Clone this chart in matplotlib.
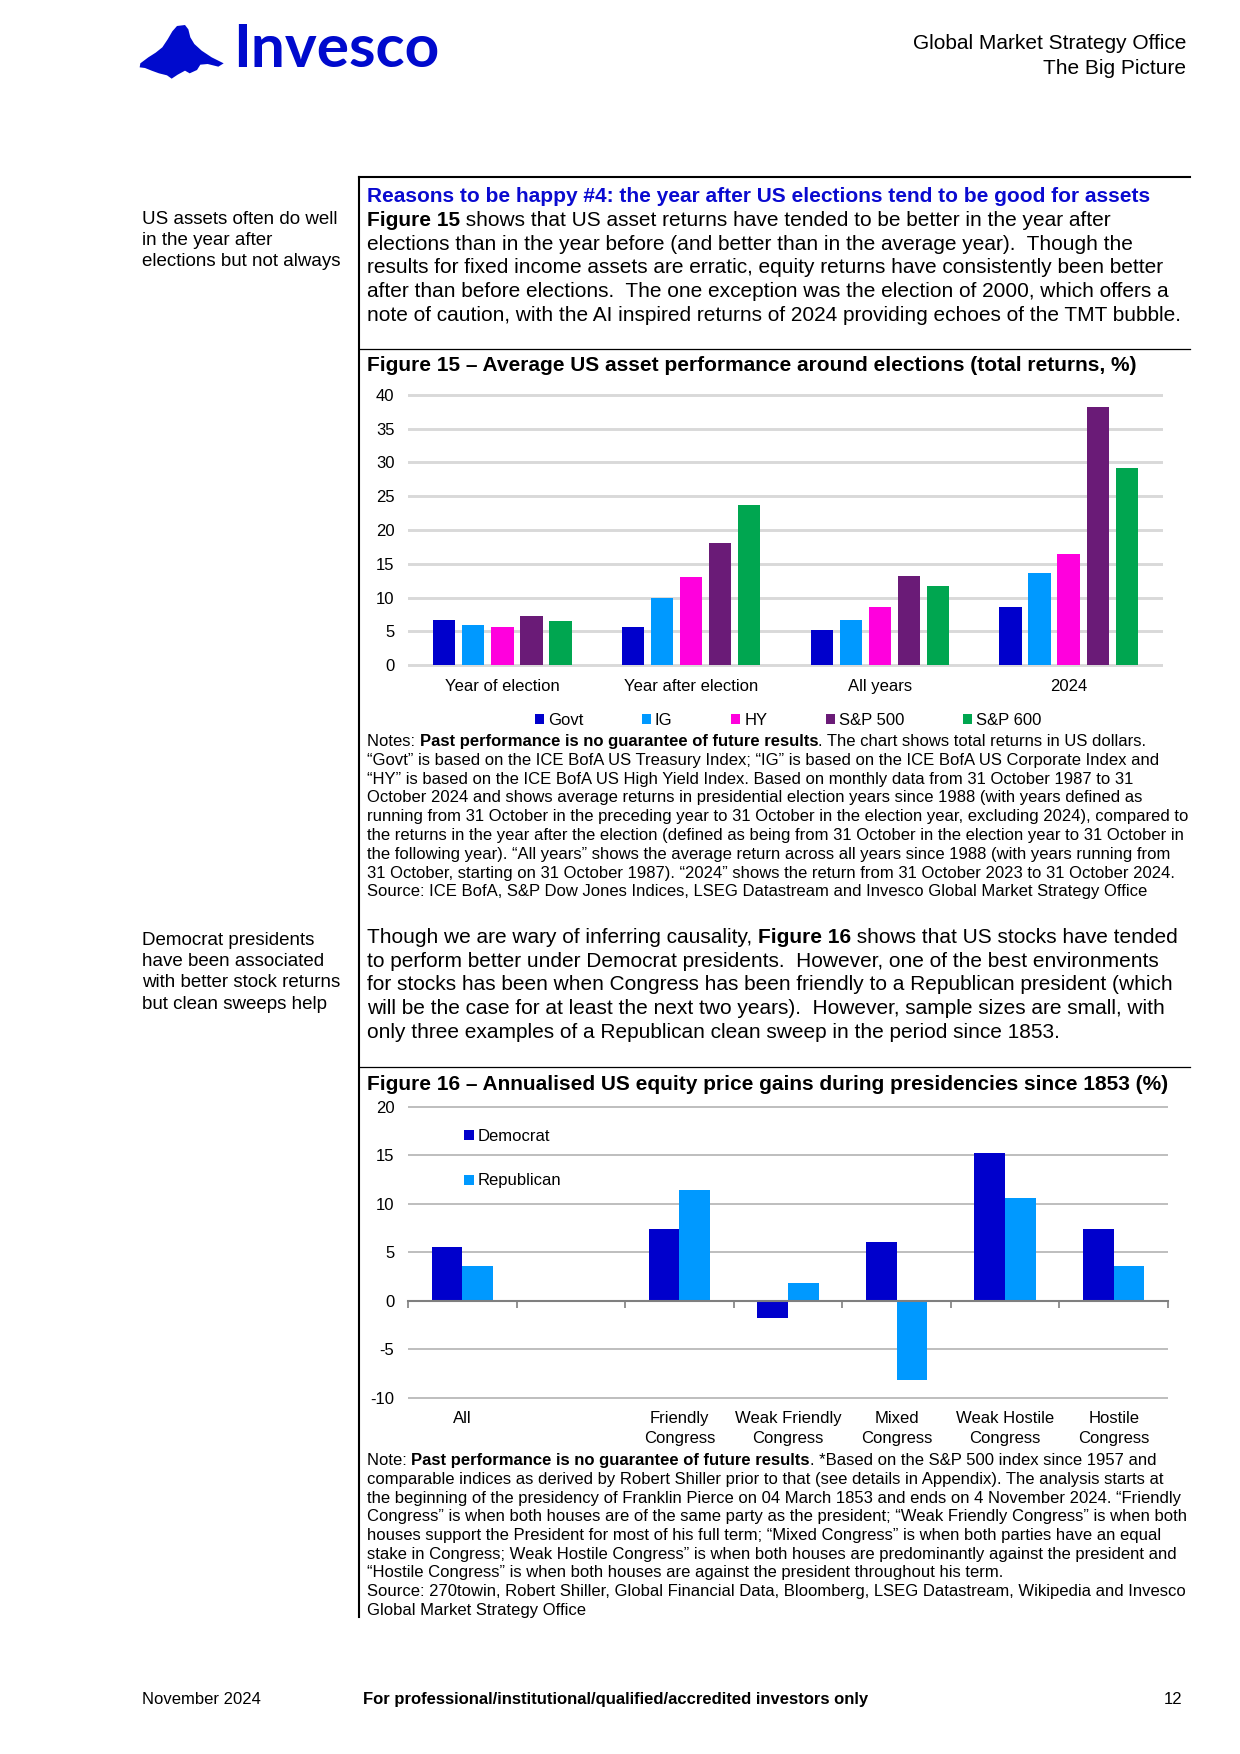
import numpy as np
import matplotlib
matplotlib.use("Agg")
import matplotlib.pyplot as plt
from matplotlib.lines import Line2D
from matplotlib.patches import Polygon

# ---------------- data ----------------
f15_categories = ["Year of election", "Year after election", "All years", "2024"]
f15_series = ["Govt", "IG", "HY", "S&P 500", "S&P 600"]
f15_govt = [6.7, 5.6, 5.2, 8.6]
f15_ig = [5.9, 9.9, 6.7, 13.6]
f15_hy = [5.6, 13.1, 8.6, 16.5]
f15_sp500 = [7.3, 18.1, 13.2, 38.2]
f15_sp600 = [6.6, 23.7, 11.7, 29.1]
f15_yticks = [0, 5, 10, 15, 20, 25, 30, 35, 40]

f16_categories = ["All", "", "Friendly\nCongress", "Weak Friendly\nCongress",
                  "Mixed\nCongress", "Weak Hostile\nCongress", "Hostile\nCongress"]
f16_democrat = [5.5, np.nan, 7.4, -1.8, 6.1, 15.2, 7.4]
f16_republican = [3.6, np.nan, 11.4, 1.8, -8.2, 10.6, 3.6]
f16_yticks = [-10, -5, 0, 5, 10, 15, 20]

# ---------------- styles ----------------
FONT = ["Liberation Sans", "DejaVu Sans"]
plt.rcParams["font.family"] = FONT
C_GOVT, C_IG, C_HY, C_SP5, C_SP6 = "#0000CC", "#0099FF", "#FF00DD", "#6A1B77", "#00A650"
C_DEM, C_REP = "#0000CC", "#0099FF"
BLUE = "#0A0AD0"
DY = 2.5  # visual centre correction (px)

W, H = 1240, 1754
fig = plt.figure(figsize=(W / 150, H / 150), dpi=150)
fig.patch.set_facecolor("white")
renderer = fig.canvas.get_renderer()


def fx(x):
    return x / W


def fy(y):
    return 1 - y / H


def seg_width(s, **kw):
    t1 = fig.text(0, 0, s + "|", **kw)
    w1 = t1.get_window_extent(renderer).width
    t1.remove()
    t2 = fig.text(0, 0, "|", **kw)
    w2 = t2.get_window_extent(renderer).width
    t2.remove()
    return w1 - w2


def rich(x, y, segs, size, color="black"):
    for s, bold in segs:
        kw = dict(fontsize=size, fontweight="bold" if bold else "normal")
        fig.text(fx(x), fy(y + DY), s, va="center", ha="left", color=color, **kw)
        x += seg_width(s, **kw)


def txt(x, y, s, size, ha="left", bold=False, color="black", **kw):
    fig.text(fx(x), fy(y + DY), s, va="center", ha=ha, fontsize=size,
             fontweight="bold" if bold else "normal", color=color, **kw)


def hline(x0, x1, y, lw):
    fig.add_artist(Line2D([fx(x0), fx(x1)], [fy(y), fy(y)], color="black", lw=lw,
                          transform=fig.transFigure))


# ---------------- header ----------------
logo_pts = [(16, 130), (40, 112), (62, 98), (82, 82), (98, 58), (112, 34), (126, 18),
            (150, 15), (160, 28), (166, 52), (178, 72), (200, 92), (230, 112), (266, 130),
            (250, 140), (218, 132), (196, 134), (186, 150), (164, 160), (150, 152),
            (128, 164), (110, 176), (96, 166), (72, 160), (50, 152), (30, 144), (14, 142)]
logo_pts = [(fx(135 + px / 3), fy(20 + py / 3)) for px, py in logo_pts]
fig.add_artist(Polygon(logo_pts, closed=True, facecolor="#000ACD", edgecolor="none",
                       transform=fig.transFigure))
fig.text(fx(233), fy(50), "Invesco", fontsize=29, fontweight="bold", color="#000ACD",
         family=["Lato", "DejaVu Sans"], va="center", ha="left")
txt(1186, 41, "Global Market Strategy Office", 10, ha="right")
txt(1186, 66, "The Big Picture", 10, ha="right")

# ---------------- layout rules ----------------
hline(359, 1190, 177, 1.0)
fig.add_artist(Line2D([fx(359), fx(359)], [fy(177), fy(1617)], color="black", lw=1.0,
                      transform=fig.transFigure))
hline(359, 1190, 349, 0.6)
hline(359, 1190, 1067, 0.6)

# ---------------- paragraph 1 ----------------
txt(367, 193.5, "Reasons to be happy #4: the year after US elections tend to be good for assets",
    10, bold=True, color=BLUE)
p1 = [
    [("Figure 15", True), (" shows that US asset returns have tended to be better in the year after", False)],
    [("elections than in the year before (and better than in the average year).  Though the", False)],
    [("results for fixed income assets are erratic, equity returns have consistently been better", False)],
    [("after than before elections.  The one exception was the election of 2000, which offers a", False)],
    [("note of caution, with the AI inspired returns of 2024 providing echoes of the TMT bubble.", False)],
]
for i, segs in enumerate(p1):
    rich(367, 218 + i * 23.7, segs, 10)
for i, s in enumerate(["US assets often do well", "in the year after", "elections but not always"]):
    txt(142, 217 + i * 21.2, s, 9)

# ---------------- Figure 15 ----------------
txt(367, 363.4, "Figure 15 \u2013 Average US asset performance around elections (total returns, %)",
    10, bold=True)
y0px, y40px = 665.3, 394.7
ppu = (y0px - y40px) / 40
lo, hi = -0.3, 40.4
bot, top = y0px - lo * ppu, y40px - (hi - 40) * ppu
ax1 = fig.add_axes([fx(408), fy(bot), (1163 - 408) / W, (bot - top) / H])
x = np.arange(len(f15_categories))
series_vals = [f15_govt, f15_ig, f15_hy, f15_sp500, f15_sp600]
series_cols = [C_GOVT, C_IG, C_HY, C_SP5, C_SP6]
step, bw = 0.154, 0.118
for j, (name, vals, col) in enumerate(zip(f15_series, series_vals, series_cols)):
    ax1.bar(x + (j - 2) * step, vals, width=bw, color=col, label=name, zorder=3)
ax1.set_xlim(-0.5, len(f15_categories) - 0.5)
ax1.set_ylim(lo, hi)
ax1.set_yticks(f15_yticks)
ax1.set_yticklabels([str(v) for v in f15_yticks])
ax1.set_xticks(x)
ax1.set_xticklabels(f15_categories)
ax1.yaxis.grid(True, color="#D9D9D9", lw=1.4)
ax1.set_axisbelow(True)
ax1.tick_params(axis="y", length=0, pad=6.5, labelsize=8)
ax1.tick_params(axis="x", length=0, pad=5.5, labelsize=8)
for sp in ax1.spines.values():
    sp.set_visible(False)
ax1.set_facecolor("none")
ax1.legend(ncol=5, loc="center", bbox_to_anchor=(fx(788), fy(720.5)),
           bbox_transform=fig.transFigure, frameon=False, fontsize=8,
           handlelength=0.55, handleheight=0.55, handletextpad=0.25,
           columnspacing=3.5, borderpad=0.2)

notes15 = [
    [("Notes: ", False), ("Past performance is no guarantee of future results", True),
     (". The chart shows total returns in US dollars.", False)],
    [("\u201cGovt\u201d is based on the ICE BofA US Treasury Index; \u201cIG\u201d is based on the ICE BofA US Corporate Index and", False)],
    [("\u201cHY\u201d is based on the ICE BofA US High Yield Index. Based on monthly data from 31 October 1987 to 31", False)],
    [("October 2024 and shows average returns in presidential election years since 1988 (with years defined as", False)],
    [("running from 31 October in the preceding year to 31 October in the election year, excluding 2024), compared to", False)],
    [("the returns in the year after the election (defined as being from 31 October in the election year to 31 October in", False)],
    [("the following year). \u201cAll years\u201d shows the average return across all years since 1988 (with years running from", False)],
    [("31 October, starting on 31 October 1987). \u201c2024\u201d shows the return from 31 October 2023 to 31 October 2024.", False)],
    [("Source: ICE BofA, S&P Dow Jones Indices, LSEG Datastream and Invesco Global Market Strategy Office", False)],
]
for i, segs in enumerate(notes15):
    rich(367, 739 + i * 18.8, segs, 8)

# ---------------- paragraph 2 ----------------
p2 = [
    [("Though we are wary of inferring causality, ", False), ("Figure 16", True),
     (" shows that US stocks have tended", False)],
    [("to perform better under Democrat presidents.  However, one of the best environments", False)],
    [("for stocks has been when Congress has been friendly to a Republican president (which", False)],
    [("will be the case for at least the next two years).  However, sample sizes are small, with", False)],
    [("only three examples of a Republican clean sweep in the period since 1853.", False)],
]
for i, segs in enumerate(p2):
    rich(367, 935 + i * 23.7, segs, 10)
for i, s in enumerate(["Democrat presidents", "have been associated", "with better stock returns",
                       "but clean sweeps help"]):
    txt(142, 938 + i * 21.2, s, 9)

# ---------------- Figure 16 ----------------
txt(367, 1082, "Figure 16 \u2013 Annualised US equity price gains during presidencies since 1853 (%)",
    10, bold=True)
y20px, ym10px = 1107, 1397.6
ppu2 = (ym10px - y20px) / 30
lo2, hi2 = -10.3, 20.3
bot2 = ym10px + (-10 - lo2) * ppu2
top2 = y20px - (hi2 - 20) * ppu2
ax2 = fig.add_axes([fx(408), fy(bot2), (1168 - 408) / W, (bot2 - top2) / H])
x2 = np.arange(len(f16_categories))
bw2 = 0.283
ax2.bar(x2 - bw2 / 2, f16_democrat, width=bw2, color=C_DEM, label="Democrat", zorder=3)
ax2.bar(x2 + bw2 / 2, f16_republican, width=bw2, color=C_REP, label="Republican", zorder=3)
ax2.set_xlim(-0.5, len(f16_categories) - 0.5)
ax2.set_ylim(lo2, hi2)
ax2.set_yticks(f16_yticks)
ax2.set_yticklabels([str(v) for v in f16_yticks])
ax2.yaxis.grid(True, color="#B3B3B3", lw=0.8)
ax2.set_axisbelow(True)
for k in ["top", "right", "left"]:
    ax2.spines[k].set_visible(False)
ax2.spines["bottom"].set_position(("data", 0))
ax2.spines["bottom"].set_color("#7F7F7F")
ax2.spines["bottom"].set_linewidth(1.0)
ax2.spines["bottom"].set_zorder(4)
ax2.set_xticks(np.arange(-0.5, len(f16_categories), 1.0))
ax2.tick_params(axis="x", direction="out", length=3.5, color="#7F7F7F", width=0.8,
                labelbottom=False)
ax2.tick_params(axis="y", length=0, pad=6.5, labelsize=8)
ax2.set_facecolor("none")
for i, lab in enumerate(f16_categories):
    ax2.annotate(lab, xy=(i, 0), xycoords=("data", "axes fraction"), xytext=(0, -5),
                 textcoords="offset points", ha="center", va="top", fontsize=8,
                 linespacing=1.4)
ax2.legend(loc="upper left", bbox_to_anchor=(fx(451), fy(1116)),
           bbox_transform=fig.transFigure, frameon=False, fontsize=8,
           handlelength=0.55, handleheight=0.55, handletextpad=0.25,
           labelspacing=1.75, borderpad=0.3)

notes16 = [
    [("Note: ", False), ("Past performance is no guarantee of future results", True),
     (". *Based on the S&P 500 index since 1957 and", False)],
    [("comparable indices as derived by Robert Shiller prior to that (see details in Appendix). The analysis starts at", False)],
    [("the beginning of the presidency of Franklin Pierce on 04 March 1853 and ends on 4 November 2024. \u201cFriendly", False)],
    [("Congress\u201d is when both houses are of the same party as the president; \u201cWeak Friendly Congress\u201d is when both", False)],
    [("houses support the President for most of his full term; \u201cMixed Congress\u201d is when both parties have an equal", False)],
    [("stake in Congress; Weak Hostile Congress\u201d is when both houses are predominantly against the president and", False)],
    [("\u201cHostile Congress\u201d is when both houses are against the president throughout his term.", False)],
    [("Source: 270towin, Robert Shiller, Global Financial Data, Bloomberg, LSEG Datastream, Wikipedia and Invesco", False)],
    [("Global Market Strategy Office", False)],
]
for i, segs in enumerate(notes16):
    rich(367, 1458 + i * 18.75, segs, 8)

# ---------------- footer ----------------
txt(142, 1697, "November 2024", 8)
txt(363, 1697, "For professional/institutional/qualified/accredited investors only", 8, bold=True)
txt(1182, 1697, "12", 8, ha="right")

fig.savefig("out.png", dpi=150, facecolor="white")
